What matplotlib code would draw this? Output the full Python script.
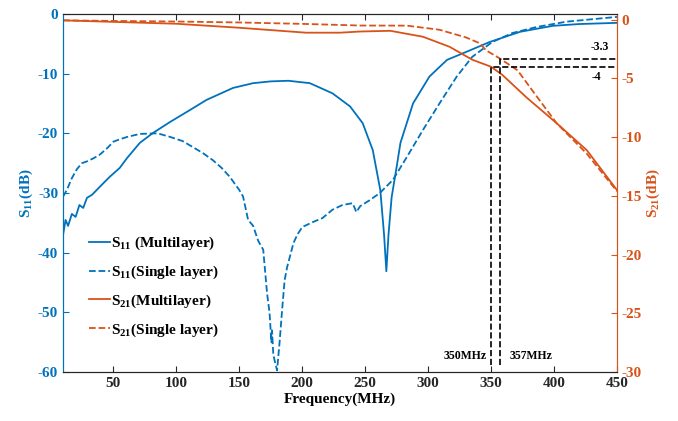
import matplotlib
matplotlib.use("Agg")
import matplotlib.pyplot as plt
from matplotlib.lines import Line2D

BLUE = "#0072BD"
ORANGE = "#D95319"

# S11 multilayer (left axis, dB)
f_s11_multi = [10, 12, 14, 17, 20, 23, 26, 29, 33, 39, 47, 55, 61, 71, 81, 95, 110,
               124, 145, 161, 175, 189, 206, 224, 238, 248, 256, 262, 265, 266.8,
               268.5, 271, 275, 278, 288, 301, 315, 331, 349, 373, 399, 420, 450]
s11_multi = [-37, -34.5, -35.5, -33.5, -34, -32, -32.5, -30.8, -30.3, -29, -27.3,
             -25.8, -24.1, -21.6, -20, -18.1, -16.2, -14.4, -12.4, -11.6, -11.3,
             -11.2, -11.6, -13.3, -15.5, -18.3, -22.8, -29.5, -37, -43.1, -37,
             -30.7, -25.6, -21.6, -15, -10.5, -7.7, -6.3, -4.7, -3.0, -2.0, -1.7,
             -1.5]

# S11 single layer (left axis, dB)
f_s11_single = [10, 13, 17, 21, 25, 29, 34, 39, 45, 50, 55, 61, 71, 85, 95, 105,
                113, 121, 129, 136, 142.5, 150, 153, 157, 161, 165, 169, 172, 174,
                175.5, 176, 177, 178, 180, 182, 184, 186, 188, 193, 196, 200, 208,
                216, 224, 232, 240, 243, 246, 253.6, 261.6, 272, 283, 296, 309,
                322.7, 335, 351, 367, 386, 410, 430, 450]
s11_single = [-30.6, -29.5, -27.5, -26, -25, -24.7, -24.2, -23.6, -22.5, -21.4,
              -21.0, -20.6, -20.1, -20.0, -20.6, -21.3, -22.3, -23.3, -24.5, -25.8,
              -27.3, -29.5, -30.6, -34.5, -35.5, -38, -39.5, -46.7, -50, -55, -53,
              -57, -58, -59.7, -55, -49.6, -44.6, -42.4, -38.4, -37, -35.7, -34.9,
              -34.2, -32.8, -32, -31.7, -33.2, -32.2, -31.2, -30, -27.8, -24, -19.4,
              -15, -10.5, -7.2, -4.7, -3.2, -2.2, -1.3, -0.9, -0.5]

# S21 multilayer (right axis, dB)
f_s21_multi = [10, 47, 100, 150, 203, 230, 246, 270, 296, 317, 335, 350, 359, 378,
               402, 426, 450]
s21_multi = [-0.05, -0.17, -0.34, -0.68, -1.1, -1.1, -1.0, -0.94, -1.45, -2.3,
             -3.4, -4.0, -4.7, -6.6, -8.8, -11.1, -14.5]

# S21 single layer (right axis, dB)
f_s21_single = [10, 50, 100, 150, 200, 246, 283, 309, 330, 341, 346, 357, 371, 384,
                402, 426, 450]
s21_single = [-0.05, -0.1, -0.15, -0.23, -0.35, -0.49, -0.5, -0.85, -1.5, -2.0,
              -2.6, -3.3, -4.3, -6.2, -8.8, -11.4, -14.6]

# cut-off markers
cut_freqs = [350, 357]
cut_levels = [-4, -3.3]

x_ticks = [50, 100, 150, 200, 250, 300, 350, 400, 450]
s11_ticks = [0, -10, -20, -30, -40, -50, -60]
s21_ticks = [0, -5, -10, -15, -20, -25, -30]

plt.rcParams["font.family"] = ["Liberation Serif", "DejaVu Serif"]
plt.rcParams["font.weight"] = "bold"
plt.rcParams["axes.labelweight"] = "bold"
plt.rcParams["font.size"] = 11
plt.rcParams["axes.unicode_minus"] = False
plt.rcParams["mathtext.fontset"] = "custom"
plt.rcParams["mathtext.rm"] = "Liberation Serif:bold"
plt.rcParams["mathtext.it"] = "Liberation Serif:bold"
plt.rcParams["mathtext.bf"] = "Liberation Serif:bold"

fig = plt.figure(figsize=(6.78, 4.21), dpi=100)
ax = fig.add_axes([0.093, 0.116, 0.817, 0.851])
ax2 = ax.twinx()

lw = 1.3
ax.plot(f_s11_multi, s11_multi, color=BLUE, lw=lw)
ax.plot(f_s11_single, s11_single, color=BLUE, lw=lw, ls="--")
ax2.plot(f_s21_multi, s21_multi, color=ORANGE, lw=lw)
ax2.plot(f_s21_single, s21_single, color=ORANGE, lw=lw, ls="--")

# cut-off annotation lines
for fc, lv in zip(cut_freqs, cut_levels):
    ax2.plot([fc, fc, 450], [-29.4, lv, lv], color="black", lw=1.2, ls="--")
ax2.text(346.5, -28.6, "350MHz", fontsize=8.5, fontweight="bold", ha="right", va="center")
ax2.text(365, -28.6, "357MHz", fontsize=8.5, fontweight="bold", ha="left", va="center")
ax2.text(436, -2.3, "-3.3", fontsize=8.5, fontweight="bold", ha="center", va="center")
ax2.text(434, -4.9, "-4", fontsize=8.5, fontweight="bold", ha="center", va="center")

ax.set_xlim(10, 450)
ax.set_ylim(-60, 0)
ax2.set_ylim(-30, 0.5)
ax.set_xticks(x_ticks)
ax.set_xticklabels([str(t) for t in x_ticks], fontweight="bold")
ax.set_yticks(s11_ticks)
ax.set_yticklabels([str(t) for t in s11_ticks], fontweight="bold")
ax2.set_yticks(s21_ticks)
ax2.set_yticklabels([str(t) for t in s21_ticks], fontweight="bold")

ax.tick_params(axis="x", direction="in", top=True, length=4, colors="#262626")
ax.tick_params(axis="y", direction="in", length=4, colors=BLUE)
ax2.tick_params(axis="y", direction="in", length=4, colors=ORANGE)

for a in (ax, ax2):
    a.spines["top"].set_color("#262626")
    a.spines["bottom"].set_color("#262626")
    a.spines["left"].set_color(BLUE)
    a.spines["right"].set_color(ORANGE)

ax.set_xlabel("Frequency(MHz)", fontweight="bold", labelpad=2)
ax.set_ylabel("S$_{11}$(dB)", color=BLUE, fontweight="bold", labelpad=2)
ax2.set_ylabel("S$_{21}$(dB)", color=ORANGE, fontweight="bold", labelpad=2)

handles = [
    Line2D([], [], color=BLUE, lw=lw),
    Line2D([], [], color=BLUE, lw=lw, ls="--"),
    Line2D([], [], color=ORANGE, lw=lw),
    Line2D([], [], color=ORANGE, lw=lw, ls="--"),
]
labels = ["S$_{11}$ (Multilayer)", "S$_{11}$(Single layer)",
          "S$_{21}$(Multilayer)", "S$_{21}$(Single layer)"]
ax2.legend(handles, labels, loc="upper left", bbox_to_anchor=(0.035, 0.40),
           frameon=False, handlelength=1.4, handletextpad=0.1, labelspacing=0.75,
           borderaxespad=0, prop={"weight": "bold", "size": 11})

fig.savefig("out.png", dpi=100)
